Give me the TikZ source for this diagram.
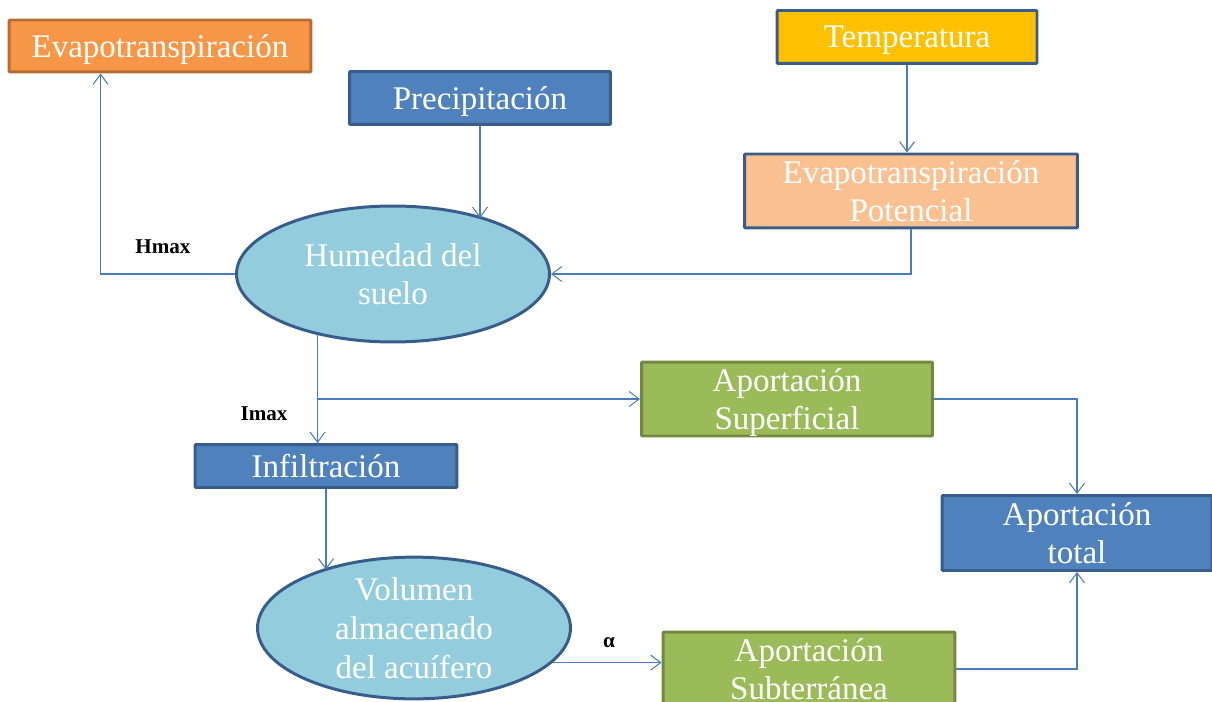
\documentclass[tikz,border=0pt]{standalone}
\usepackage{fontspec}
\setmainfont{Liberation Serif}
\usepackage{xcolor}
\usepackage{tikz}
\usetikzlibrary{shapes.geometric,arrows.meta}

\definecolor{naranja}{HTML}{F79646}
\definecolor{naranjaborde}{HTML}{B66D31}
\definecolor{azul}{HTML}{4F81BD}
\definecolor{azulborde}{HTML}{385D8A}
\definecolor{amarillo}{HTML}{FFC000}
\definecolor{melocoton}{HTML}{FAC090}
\definecolor{celeste}{HTML}{93CDDD}
\definecolor{verde}{HTML}{9BBB59}
\definecolor{verdeborde}{HTML}{71893F}
\definecolor{flecha}{HTML}{4A7EBB}

\begin{document}
\begin{tikzpicture}[x=0.02cm,y=-0.02cm,
		caja/.style={draw=azulborde,line width=1.7pt,rounded corners=0.5pt,inner sep=0pt,
			text depth=0pt,align=center,text=white,font=\fontsize{18.8}{22}\selectfont},
		elipse/.style={ellipse,draw=azulborde,fill=celeste,line width=1.7pt,inner sep=0pt,
			text depth=0pt,minimum width=6.26cm,minimum height=2.72cm,align=center,text=white,
			font=\fontsize{18.8}{22}\selectfont},
		conn/.style={draw=flecha,line width=0.6pt,-{Straight Barb[length=2mm,width=3mm]}},
		etiqueta/.style={font=\fontsize{12}{14}\selectfont\bfseries}]
		\useasboundingbox (0,0) rectangle (1212,702);
		
		% cajas de la parte superior
		\node[caja,fill=naranja,draw=naranjaborde,minimum width=6.04cm,minimum height=1.04cm] (evap) at (160,46) {Evapotranspiración};
		\node[caja,fill=azul,minimum width=5.22cm,minimum height=1.06cm] (precip) at (480,98) {Precipitación};
		\node[caja,fill=amarillo,minimum width=5.2cm,minimum height=1.06cm] (temp) at (907,37) {Temperatura};
		\node[caja,fill=melocoton,minimum width=6.66cm,minimum height=1.48cm] (etp) at (911,191) {Evapotranspiración\\Potencial};
		
		% humedad del suelo
		\node[elipse] (hum) at (393,274) {Humedad del\\suelo};
		
		% cajas de la parte inferior
		\node[caja,fill=verde,draw=verdeborde,minimum width=5.82cm,minimum height=1.48cm] (supf) at (787,399) {Aportación\\Superficial};
		\node[caja,fill=azul,minimum width=5.24cm,minimum height=0.86cm] (infil) at (326,466) {Infiltración};
		\node[caja,fill=azul,minimum width=5.4cm,minimum height=1.5cm] (total) at (1077,533) {Aportación\\total};
		\node[elipse] (vol) at (414,628) {Volumen\\almacenado\\del acuífero};
		\node[caja,fill=verde,draw=verdeborde,minimum width=5.84cm,minimum height=1.48cm] (subt) at (809,669) {Aportación\\Subterránea};
		
		% flechas
		\draw[conn] (precip.south) -- (precip.south |- hum.31);
		\draw[conn] (temp.south) -- (temp.south |- etp.north);
		\draw[conn] (etp.south) |- (hum.east);
		\draw[conn] (hum.west) -| ([xshift=1.86cm]evap.south west);
		\draw[conn] (hum.219) -- (hum.219 |- infil.north);
		\draw[conn] (hum.219 |- supf.west) -- (supf.west);
		\draw[conn] (infil.south) -- (infil.south |- vol.148);
		\draw[conn] (vol.-14) -- (vol.-14 -| subt.west);
		\draw[conn] (supf.east) -| (total.north);
		\draw[conn] (subt.east) -| (total.south);
		
		% etiquetas
		\node[etiqueta] (hmax) at (163,247) {Hmax};
		\node[etiqueta] (imax) at (264,414) {Imax};
		\node[etiqueta] (alfa) at (609,643) {α};
	\end{tikzpicture}
\end{document}
